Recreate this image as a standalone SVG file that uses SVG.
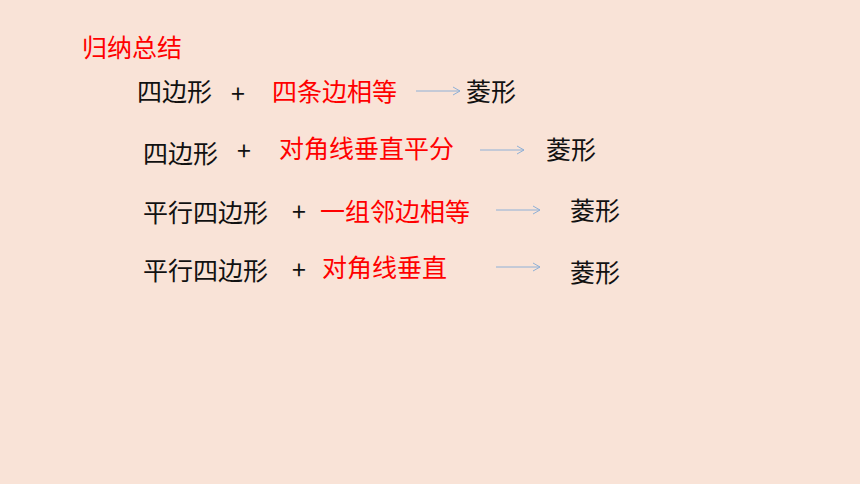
<svg xmlns="http://www.w3.org/2000/svg" width="860" height="484" viewBox="0 0 860 484">
<style>
text{font-family:"Noto Sans CJK SC","Noto Sans",sans-serif;font-size:25px}
.k{fill:#111}
.r{fill:#ff0000}
.c{stroke:#8fb0d6;stroke-width:1;fill:none}
</style>
<defs>
<marker id="ah" markerWidth="10" markerHeight="10" refX="8" refY="5" orient="auto" markerUnits="userSpaceOnUse">
<path d="M1,1 L8,5 L1,9" stroke="#8fb0d6" stroke-width="1" fill="none"/>
</marker>
</defs>
<rect width="860" height="484" fill="#f9e3d7"/>
<g id="title"><text class="r" x="82" y="57">归纳总结</text></g>
<g id="row1">
<text class="k" x="137" y="101">四边形</text>
<text class="k" x="231" y="103">+</text>
<text class="r" x="272" y="101">四条边相等</text>
<text class="k" x="466" y="101">菱形</text>
</g>
<g id="row2">
<text class="k" x="143" y="163">四边形</text>
<text class="k" x="237" y="160">+</text>
<text class="r" x="279" y="158">对角线垂直平分</text>
<text class="k" x="546" y="159">菱形</text>
</g>
<g id="row3">
<text class="k" x="143" y="222">平行四边形</text>
<text class="k" x="292" y="221">+</text>
<text class="r" x="320" y="221">一组邻边相等</text>
<text class="k" x="570" y="220">菱形</text>
</g>
<g id="row4">
<text class="k" x="143" y="280">平行四边形</text>
<text class="k" x="292" y="279">+</text>
<text class="r" x="322" y="277">对角线垂直</text>
<text class="k" x="570" y="282">菱形</text>
</g>
<g id="connectors">
<line class="c" x1="416" y1="91" x2="460" y2="91" marker-end="url(#ah)"/>
<line class="c" x1="480" y1="150" x2="524" y2="150" marker-end="url(#ah)"/>
<line class="c" x1="496" y1="210" x2="540" y2="210" marker-end="url(#ah)"/>
<line class="c" x1="496" y1="267" x2="540" y2="267" marker-end="url(#ah)"/>
</g>
</svg>
